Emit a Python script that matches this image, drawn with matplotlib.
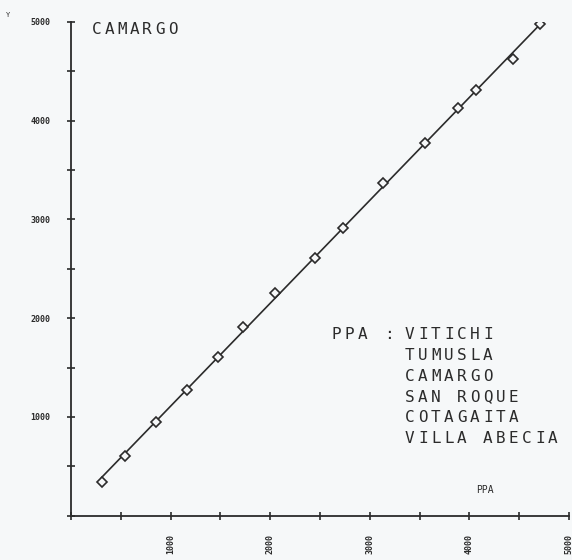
import numpy as np
import matplotlib
matplotlib.use('Agg')
import matplotlib.pyplot as plt
from matplotlib.ticker import MultipleLocator

# acumulados (curva doble masa)
ppa_x = [308, 547, 856, 1164, 1473, 1731, 2050, 2448, 2726,
         3134, 3552, 3881, 4070, 4438, 4706]
camargo_y = [344, 608, 952, 1277, 1611, 1915, 2259, 2614, 2918,
             3364, 3769, 4124, 4306, 4620, 4975]

major_ticks = [1000, 2000, 3000, 4000, 5000]
estaciones = ['VITICHI', 'TUMUSLA', 'CAMARGO', 'SAN ROQUE',
              'COTAGAITA', 'VILLA ABECIA']

ink = '#2b2b2b'
paper = '#f6f8f9'
mono = 'DejaVu Sans Mono'


def plotter_text(ax, x, y, s, adv=13, size=11.5):
    # letras de plotter: paso fijo y ancho, una por una
    for i, ch in enumerate(s):
        if ch == ' ':
            continue
        ax.annotate(ch, xy=(x, y), xycoords='axes fraction',
                    xytext=(i * adv, 0), textcoords='offset pixels',
                    family=mono, fontsize=size, color=ink,
                    ha='center', va='center')


fig = plt.figure(figsize=(5.72, 5.6), dpi=100, facecolor=paper)
ax = fig.add_axes([0.124, 0.079, 0.871, 0.882])
ax.set_facecolor(paper)

# recta de ajuste
coef = np.polyfit(ppa_x, camargo_y, 1)
xl = np.array([ppa_x[0], ppa_x[-1]])
ax.plot(xl, np.polyval(coef, xl), color=ink, lw=1.2, zorder=2)
ax.plot(ppa_x, camargo_y, linestyle='none', marker='D', markersize=5.5,
        mfc=paper, mec=ink, mew=1.2, zorder=3)

ax.set_xlim(0, 5000)
ax.set_ylim(0, 5000)
for s in ['top', 'right']:
    ax.spines[s].set_visible(False)
for s in ['left', 'bottom']:
    ax.spines[s].set_color(ink)
    ax.spines[s].set_linewidth(1.3)

ax.xaxis.set_minor_locator(MultipleLocator(500))
ax.yaxis.set_minor_locator(MultipleLocator(500))
ax.tick_params(which='both', direction='inout', length=6, width=1.2,
               color=ink)
ax.tick_params(axis='y', pad=12)
ax.tick_params(axis='x', pad=10)

ax.set_xticks(major_ticks)
ax.set_yticks(major_ticks)
ax.set_xticklabels([str(t) for t in major_ticks], rotation=90,
                   fontsize=6, fontweight='bold', family=mono, color=ink)
ax.set_yticklabels([str(t) for t in major_ticks],
                   fontsize=6, fontweight='bold', family=mono, color=ink)

plotter_text(ax, 0.051, 0.984, 'CAMARGO', adv=12.7)

plotter_text(ax, 0.533, 0.366, 'PPA :')
for i, nombre in enumerate(estaciones):
    plotter_text(ax, 0.680, 0.366 - i * 0.0419, nombre)

ax.text(4150, 263, 'PPA', family=mono, fontsize=7, color=ink,
        ha='center', va='center')
fig.text(0.014, 0.974, 'Y', family=mono, fontsize=5, color=ink,
         ha='center', va='center')

plt.savefig('out.png', dpi=100, facecolor=paper)
plt.close()
